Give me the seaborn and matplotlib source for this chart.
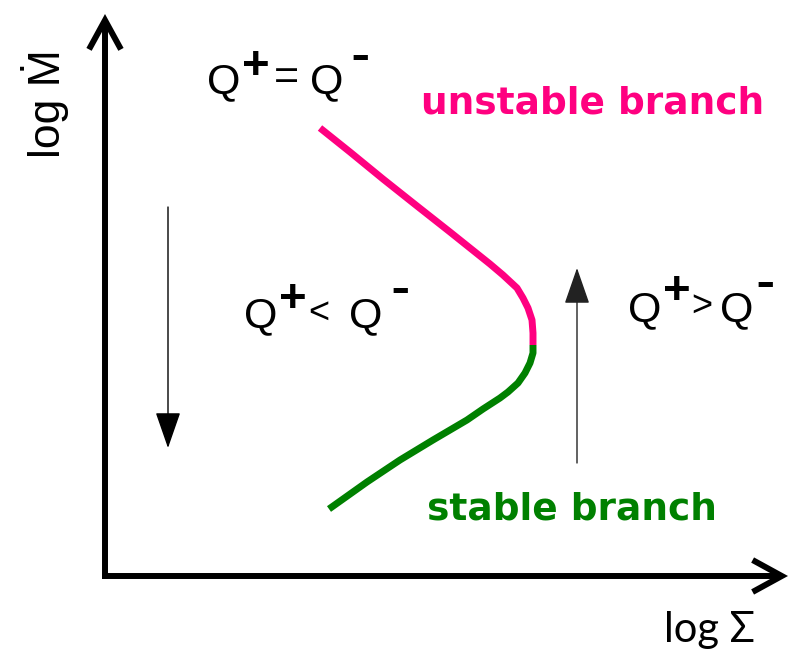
import matplotlib
matplotlib.use("Agg")
import matplotlib.pyplot as plt
import seaborn as sns
import pandas as pd

# S-curve of the disc: thermal-equilibrium branches in the (log Sigma, log Mdot) plane
# (schematic units; the vertical coordinate grows downward on the canvas)
unstable_sigma = [320, 350, 383, 417, 450, 475, 490, 503, 517, 523, 528, 532, 533, 533]
unstable_mdot = [128, 152, 179, 206, 232, 252, 264, 275, 288, 298, 308, 320, 333, 345]
stable_sigma = [533, 533, 530, 525, 518, 508, 500, 483, 467, 433, 400, 367, 329]
stable_mdot = [345, 353, 363, 373, 383, 392, 398, 409, 420, 440, 460, 482, 509]

branch_labels = ["unstable branch", "stable branch"]
x_label = "log Σ"
y_label = "log Ṁ"

PINK = "#FF0080"
GREEN = "#008000"
SANS = ["Liberation Sans", "DejaVu Sans"]

sns.set_theme(style="white")
plt.rcParams["font.family"] = SANS

fig = plt.figure(figsize=(7.93, 6.56), dpi=100)
ax = fig.add_axes([0, 0, 1, 1])

df_u = pd.DataFrame({"sigma": unstable_sigma, "mdot": unstable_mdot})
df_s = pd.DataFrame({"sigma": stable_sigma, "mdot": stable_mdot})
sns.lineplot(data=df_u, x="sigma", y="mdot", sort=False, estimator=None,
             color=PINK, lw=5.0, ax=ax, solid_capstyle="butt",
             solid_joinstyle="round")
sns.lineplot(data=df_s, x="sigma", y="mdot", sort=False, estimator=None,
             color=GREEN, lw=5.0, ax=ax, solid_capstyle="butt",
             solid_joinstyle="round")

ax.set_xlim(0, 793)
ax.set_ylim(656, 0)
ax.axis("off")

# coordinate axes with open arrow heads
axis_style = "->,head_length=2.1,head_width=1.15"
for start, tip in [((105, 579), (105, 14)), ((102, 576), (788, 576))]:
    ax.annotate("", xy=tip, xytext=start,
                arrowprops=dict(arrowstyle=axis_style, lw=4.3, color="black",
                                shrinkA=0, shrinkB=0, mutation_scale=10,
                                capstyle="butt", joinstyle="miter"))

# thin evolution arrows
evo_style = "-|>,head_length=2.3,head_width=0.8"
ax.annotate("", xy=(168, 448), xytext=(168, 207),
            arrowprops=dict(arrowstyle=evo_style, lw=1.0, color="black",
                            shrinkA=0, shrinkB=0, mutation_scale=10))
ax.annotate("", xy=(577, 268), xytext=(577, 463),
            arrowprops=dict(arrowstyle=evo_style, lw=1.0, color="#222222",
                            shrinkA=0, shrinkB=0, mutation_scale=10))


def glyph(x, cy, s, size, k=0.35, weight="normal"):
    """Place a glyph so that its ink centre sits at (x, cy)."""
    px = size * 100 / 72
    ax.text(x, cy + k * px, s, fontsize=size, ha="center", va="baseline",
            fontweight=weight, color="black", family=SANS)


QS = 31


def q(x, base):
    ax.text(x, base, "Q", fontsize=QS, ha="center", va="baseline",
            color="black", family=SANS)


def plus(x, cy):
    glyph(x, cy, "+", 34, weight="bold")


def minus(x, cy):
    glyph(x, cy, "-", 42, k=0.266)


# Q+ = Q-
q(223.5, 93)
plus(256, 62)
glyph(286, 73.5, "=", 31)
q(326.5, 93)
minus(360, 57)

# Q+ < Q-
q(261, 327)
plus(293, 295)
glyph(319, 310, "<", 26)
q(366, 327)
minus(400, 290)

# Q+ > Q-
q(645, 321)
plus(677, 287)
glyph(702, 303, ">", 26)
q(737, 321)
minus(765, 284)

# branch names
ax.text(421, 114, branch_labels[0], fontsize=27, fontweight="bold",
        family=["DejaVu Sans"], color=PINK, ha="left", va="baseline")
ax.text(427, 520, branch_labels[1], fontsize=27, fontweight="bold",
        family=["DejaVu Sans"], color=GREEN, ha="left", va="baseline")

# axis titles
ax.text(664, 642, x_label, fontsize=30, family=["Lato", "DejaVu Sans"],
        color="black", ha="left", va="baseline")
ax.text(60, 104, y_label, fontsize=32, rotation=90, rotation_mode="anchor",
        ha="center", va="baseline", color="black", family=SANS)

fig.savefig("out.png", dpi=100)
